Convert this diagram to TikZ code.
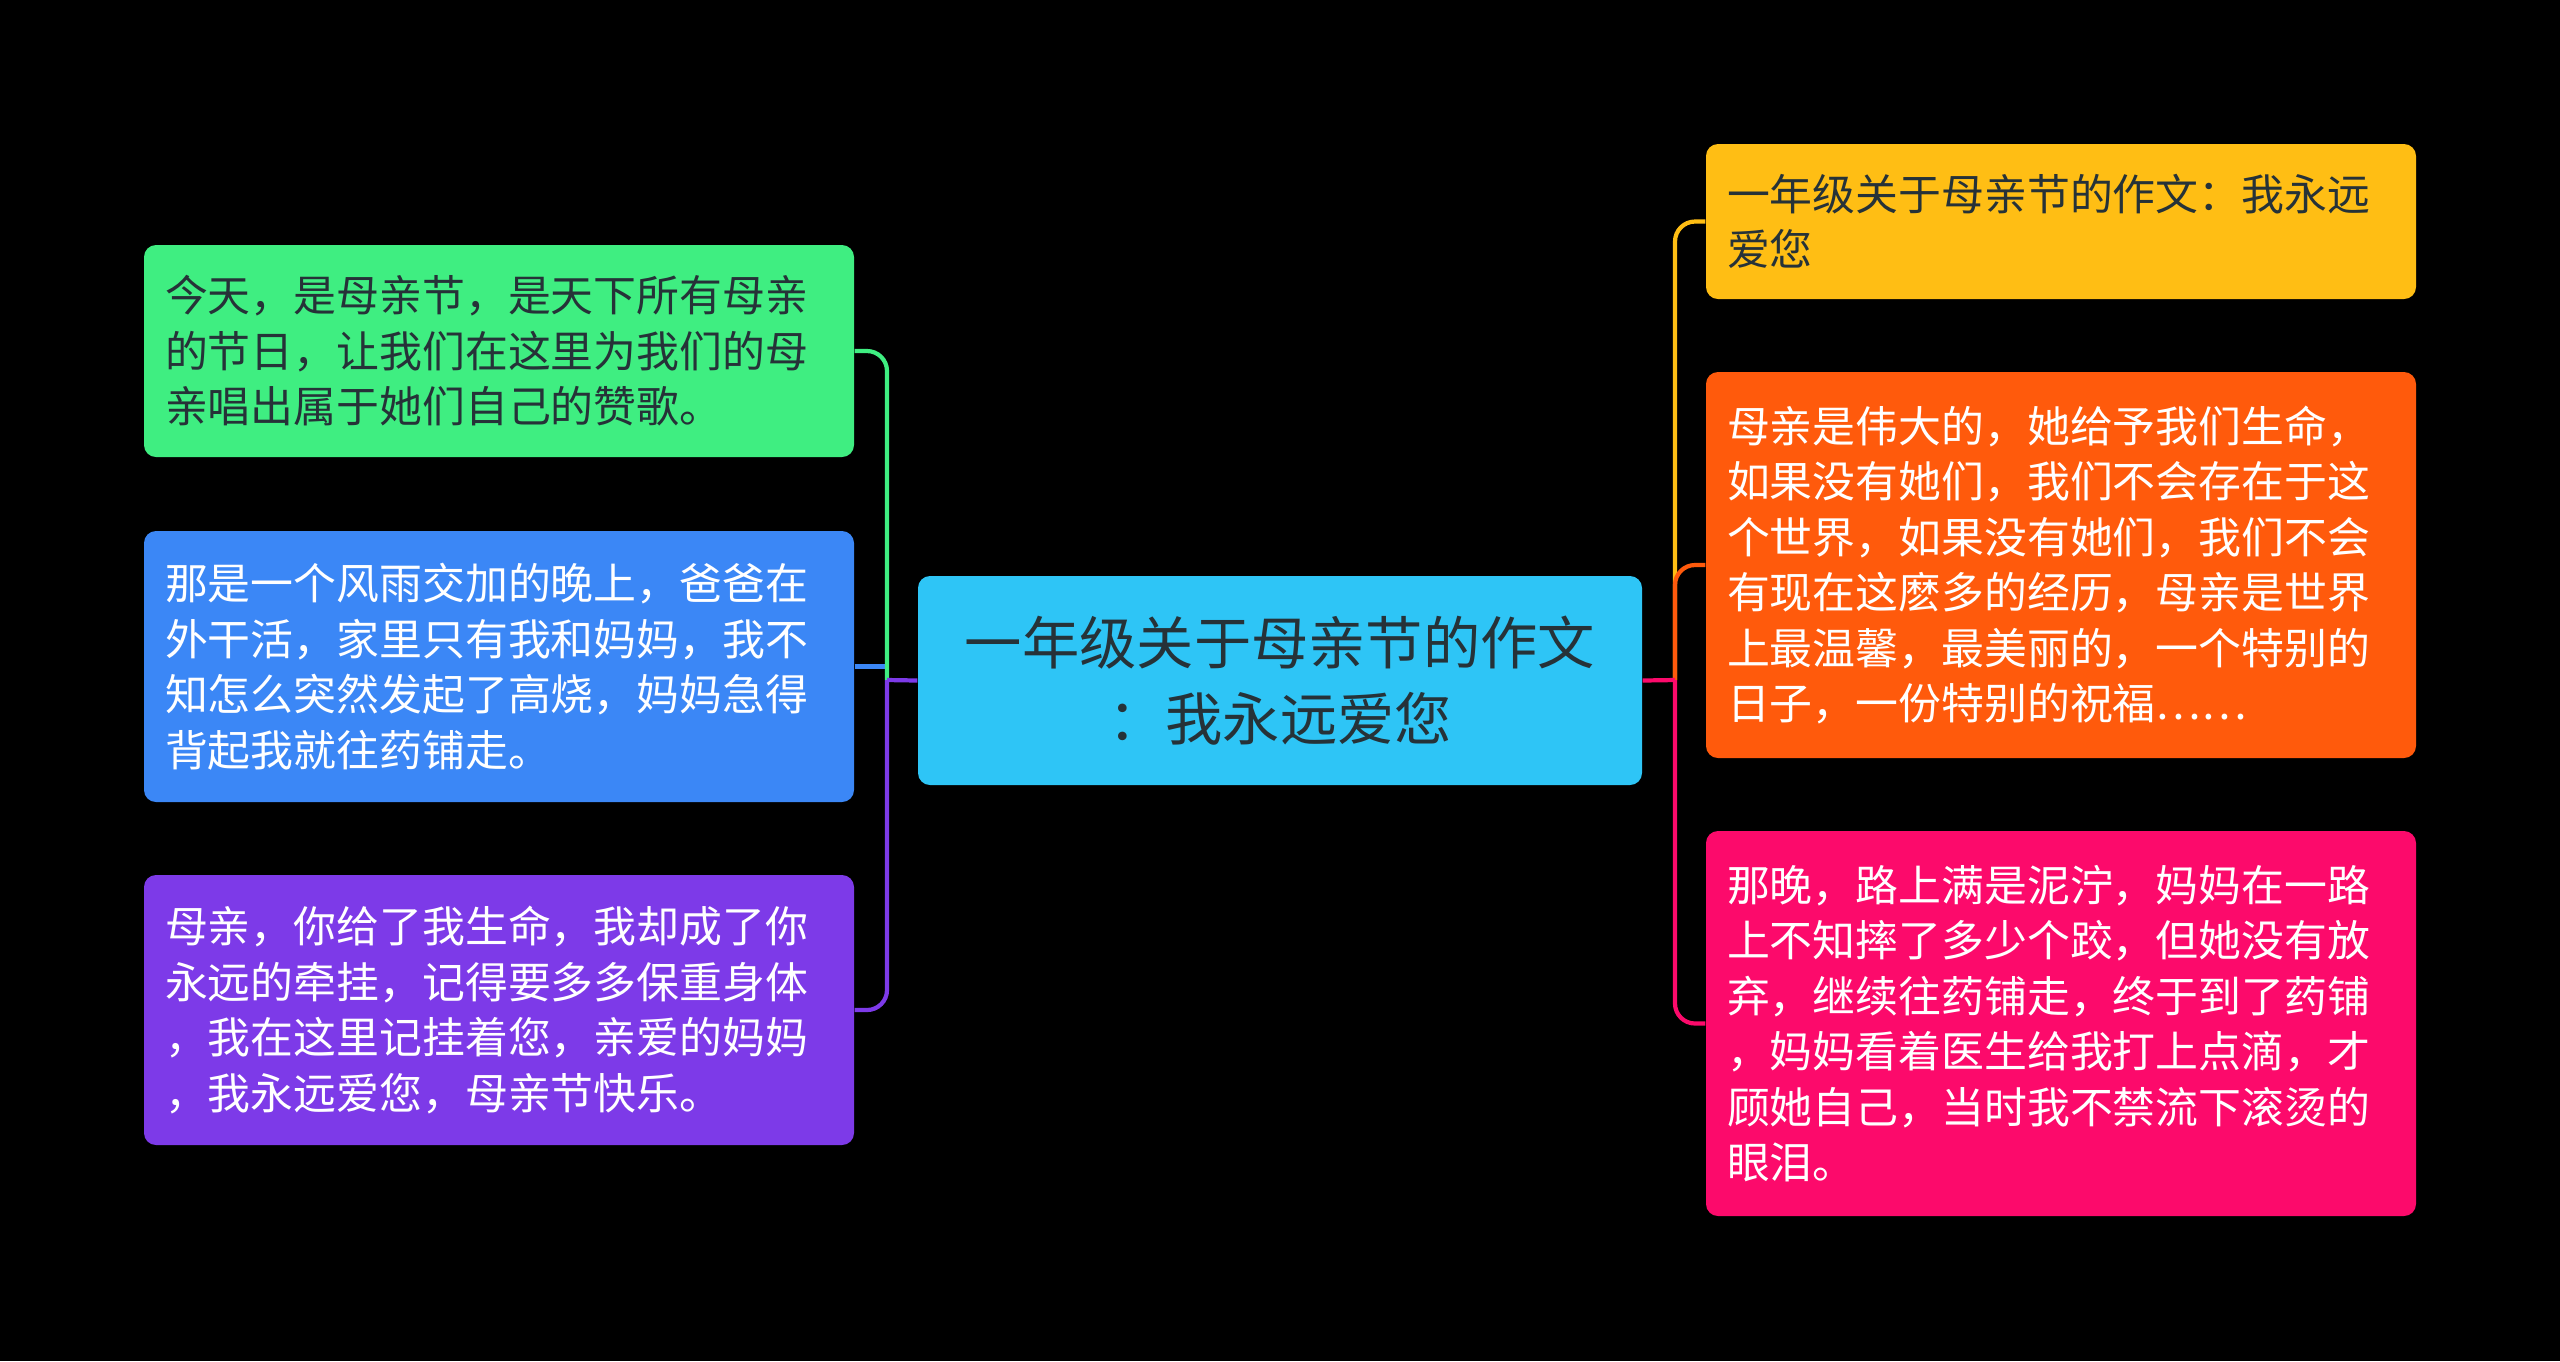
\documentclass[tikz,border=0pt]{standalone}
\usepackage{fontspec}
\setmainfont{Noto Sans CJK SC}
\definecolor{cgreen}{HTML}{3FEE81}
\definecolor{cblue}{HTML}{3B87F6}
\definecolor{cpurple}{HTML}{7D3AE8}
\definecolor{ccyan}{HTML}{2EC5F6}
\definecolor{cyellow}{HTML}{FFBE14}
\definecolor{corange}{HTML}{FF5A0C}
\definecolor{cpink}{HTML}{FC0A6B}
\definecolor{dark}{HTML}{263238}
\tikzset{
  box/.style={rounded corners=0.12cm,inner xsep=0.21cm,inner ysep=0pt,text width=6.68cm,align=left,font=\fontsize{12.2}{15.8}\selectfont},
  link/.style={line width=1.2pt,rounded corners=0.2cm},
}
\begin{document}
\begin{tikzpicture}
\useasboundingbox(0,0)rectangle(25.6,-13.61);
\fill[black](0,0)rectangle(25.6,-13.61);
\node[box,fill=cgreen,text=dark,minimum height=2.12cm](l1)at(4.99,-3.51){今天，是母亲节，是天下所有母亲\\的节日，让我们在这里为我们的母\\亲唱出属于她们自己的赞歌。};
\node[box,fill=cblue,text=white,minimum height=2.71cm](l2)at(4.99,-6.665){那是一个风雨交加的晚上，爸爸在\\外干活，家里只有我和妈妈，我不\\知怎么突然发起了高烧，妈妈急得\\背起我就往药铺走。};
\node[box,fill=cpurple,text=white,minimum height=2.70cm](l3)at(4.99,-10.10){母亲，你给了我生命，我却成了你\\永远的牵挂，记得要多多保重身体\\，我在这里记挂着您，亲爱的妈妈\\，我永远爱您，母亲节快乐。};
\node[rounded corners=0.12cm,fill=ccyan,text=dark,inner xsep=0.22cm,inner ysep=0pt,text width=6.8cm,align=center,minimum height=2.09cm,font=\fontsize{16.3}{21.8}\selectfont](mid)at(12.80,-6.805){一年级关于母亲节的作文\\：我永远爱您};
\node[box,fill=cyellow,text=dark,minimum height=1.55cm](r1)at(20.61,-2.215){一年级关于母亲节的作文：我永远\\爱您};
\node[box,fill=corange,text=white,minimum height=3.86cm](r2)at(20.61,-5.65){母亲是伟大的，她给予我们生命，\\如果没有她们，我们不会存在于这\\个世界，如果没有她们，我们不会\\有现在这麽多的经历，母亲是世界\\上最温馨，最美丽的，一个特别的\\日子，一份特别的祝福……};
\node[box,fill=cpink,text=white,minimum height=3.85cm](r3)at(20.61,-10.235){那晚，路上满是泥泞，妈妈在一路\\上不知摔了多少个跤，但她没有放\\弃，继续往药铺走，终于到了药铺\\，妈妈看着医生给我打上点滴，才\\顾她自己，当时我不禁流下滚烫的\\眼泪。};
\coordinate(lj)at(8.87,-6.80);
\coordinate(rj)at(16.75,-6.80);
\draw[link,cblue](l2.east)--(l2.east-|lj);
\draw[link,cgreen](l1.east)-|(lj);
\draw[link,cpurple](l3.east)-|(lj);
\draw[link,cpurple](mid.west)--(lj);
\draw[link,cyellow](r1.west)-|(rj);
\draw[link,corange](r2.west)-|(rj);
\draw[link,cpink](r3.west)-|(rj);
\draw[link,cpink](mid.east)--(rj);
\end{tikzpicture}
\end{document}
